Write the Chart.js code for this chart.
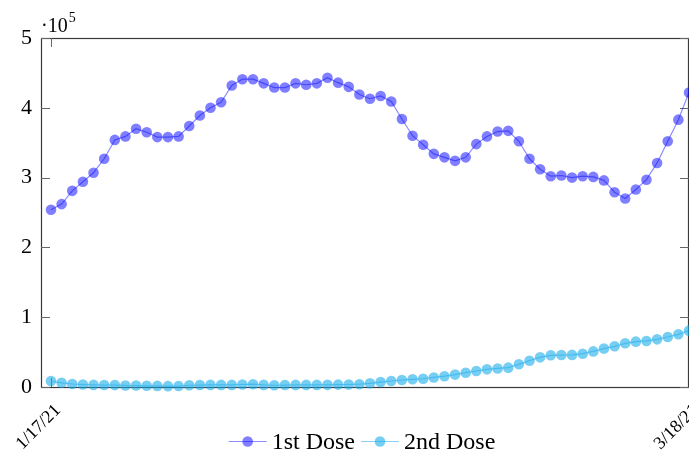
<!DOCTYPE html>
<html><head><meta charset="utf-8">
<script src="https://cdn.jsdelivr.net/npm/chart.js@4.4.1/dist/chart.umd.min.js"></script>
<style>html,body{margin:0;padding:0;background:#fff;overflow:hidden;}canvas{display:block;}</style>
</head><body>
<canvas id="c" width="689" height="451"></canvas>
<script>
const dates = ['1/17/21','1/18/21','1/19/21','1/20/21','1/21/21','1/22/21','1/23/21','1/24/21','1/25/21','1/26/21',
'1/27/21','1/28/21','1/29/21','1/30/21','1/31/21','2/1/21','2/2/21','2/3/21','2/4/21','2/5/21',
'2/6/21','2/7/21','2/8/21','2/9/21','2/10/21','2/11/21','2/12/21','2/13/21','2/14/21','2/15/21',
'2/16/21','2/17/21','2/18/21','2/19/21','2/20/21','2/21/21','2/22/21','2/23/21','2/24/21','2/25/21',
'2/26/21','2/27/21','2/28/21','3/1/21','3/2/21','3/3/21','3/4/21','3/5/21','3/6/21','3/7/21',
'3/8/21','3/9/21','3/10/21','3/11/21','3/12/21','3/13/21','3/14/21','3/15/21','3/16/21','3/17/21','3/18/21'];

const firstDose = [254000,262000,281000,294000,307000,327000,354000,359000,370000,365000,
358000,358000,359000,374000,389000,400000,408000,432000,441000,441000,
435000,429000,429000,435000,433000,435000,443000,436000,430000,419000,
413000,417000,409000,384000,360000,347000,334000,329000,324000,329000,
348000,359000,366000,367000,352000,327000,312000,302000,303000,300000,
302000,301000,296000,279000,270000,283000,297000,321000,352000,383000,422000];

const secondDose = [8600,6000,4300,3500,3000,2800,2700,2200,2100,1700,
1600,1200,1400,2500,2800,3000,3000,3000,3600,4000,
3000,2500,2800,3000,3000,3000,3100,3400,3600,4000,
5200,7000,8600,10000,11000,11800,13700,15500,17800,20500,
22900,25300,26600,27700,32500,37700,42500,45400,45800,46000,
47700,51000,55000,58300,62600,65000,66000,68300,71600,75500,80700];

const xTickIndex = [0, 60];
const yTickValues = [0,100000,200000,300000,400000,500000];
const yExponentLabel = '·10';
const yExponentPower = '5';

const SERIF = '"Liberation Serif", "DejaVu Serif", serif';

const framePlugin = {
  id: 'frame',
  beforeDatasetsDraw(chart) {
    const {ctx, chartArea: a, scales} = chart;
    ctx.save();
    ctx.strokeStyle = '#3a3a3a';
    ctx.lineWidth = 1.2;
    ctx.strokeRect(a.left + 0.5, a.top + 0.5, a.right - a.left - 1, a.bottom - a.top);
    ctx.strokeStyle = '#666';
    ctx.lineWidth = 1;
    const tl = 9;
    yTickValues.forEach(v => {
      const y = Math.round(scales.y.getPixelForValue(v)) + 0.5;
      ctx.beginPath(); ctx.moveTo(a.left, y); ctx.lineTo(a.left + tl, y); ctx.stroke();
      ctx.beginPath(); ctx.moveTo(a.right, y); ctx.lineTo(a.right - tl, y); ctx.stroke();
    });
    xTickIndex.forEach(i => {
      const x = Math.round(scales.x.getPixelForValue(i)) + 0.5;
      ctx.beginPath(); ctx.moveTo(x, a.top); ctx.lineTo(x, a.top + tl); ctx.stroke();
      ctx.beginPath(); ctx.moveTo(x, a.bottom); ctx.lineTo(x, a.bottom - tl); ctx.stroke();
    });
    ctx.restore();
  },
  afterDraw(chart) {
    const {ctx, chartArea: a} = chart;
    ctx.save();
    ctx.fillStyle = '#000';
    ctx.textBaseline = 'alphabetic';
    ctx.font = '20px ' + SERIF;
    ctx.fillText(yExponentLabel, a.left, 32);
    const w = ctx.measureText(yExponentLabel).width;
    ctx.font = '14px ' + SERIF;
    ctx.fillText(yExponentPower, a.left + w + 1, 22);

    // legend
    ctx.font = '24px ' + SERIF;
    const items = chart.data.datasets.map(d => ({label: d.label, line: d.borderColor, fill: d.pointBackgroundColor}));
    const symW = 38, g1 = 5, g2 = 6;
    let total = 0;
    items.forEach((it, i) => { total += symW + g1 + ctx.measureText(it.label).width + (i < items.length - 1 ? g2 : 0); });
    let x = (a.left + a.right) / 2 - total / 2 - 3;
    const yl = 441.5;
    items.forEach(it => {
      ctx.strokeStyle = it.line; ctx.lineWidth = 1.2;
      ctx.beginPath(); ctx.moveTo(x, yl); ctx.lineTo(x + symW, yl); ctx.stroke();
      ctx.fillStyle = it.fill;
      ctx.beginPath(); ctx.arc(x + symW / 2, yl, 5.3, 0, Math.PI * 2); ctx.fill();
      ctx.fillStyle = '#000';
      ctx.fillText(it.label, x + symW + g1, 449);
      x += symW + g1 + ctx.measureText(it.label).width + g2;
    });
    ctx.restore();
  }
};

const toPoints = arr => arr.map((v, i) => ({x: i, y: v}));

new Chart(document.getElementById('c'), {
  type: 'line',
  data: {
    datasets: [
      {label: '1st Dose', data: toPoints(firstDose), borderColor: 'rgba(0,0,255,0.45)', borderWidth: 1.2,
       pointBackgroundColor: 'rgba(0,0,255,0.5)', pointBorderWidth: 0, pointRadius: 5.3, tension: 0, clip: false},
      {label: '2nd Dose', data: toPoints(secondDose), borderColor: 'rgba(20,170,235,0.5)', borderWidth: 1.2,
       pointBackgroundColor: 'rgba(20,170,235,0.58)', pointBorderWidth: 0, pointRadius: 5.3, tension: 0, clip: false}
    ]
  },
  options: {
    responsive: false,
    animation: false,
    devicePixelRatio: 1,
    layout: {autoPadding: false, padding: {left: 0, right: 0, top: 38, bottom: 0}},
    plugins: {legend: {display: false}, tooltip: {enabled: false}},
    scales: {
      x: {
        type: 'linear', min: -0.94, max: 60,
        grid: {display: false, drawTicks: false},
        border: {display: false},
        afterBuildTicks: s => { s.ticks = xTickIndex.map(v => ({value: v})); },
        afterFit: s => { s.height = 64; s.paddingLeft = 0; s.paddingRight = 0; },
        ticks: {autoSkip: false, minRotation: 45, maxRotation: 45, padding: 13, labelOffset: 7, color: '#000',
          font: {family: SERIF, size: 18}, callback: v => dates[v]}
      },
      y: {
        min: 0, max: 500000,
        grid: {display: false, drawTicks: false},
        border: {display: false},
        afterBuildTicks: s => { s.ticks = yTickValues.map(v => ({value: v})); },
        afterFit: s => { s.width = 41; },
        ticks: {autoSkip: false, padding: 9, color: '#000', font: {family: SERIF, size: 22},
          callback: v => v / 100000}
      }
    }
  },
  plugins: [framePlugin]
});
</script>
</body></html>
